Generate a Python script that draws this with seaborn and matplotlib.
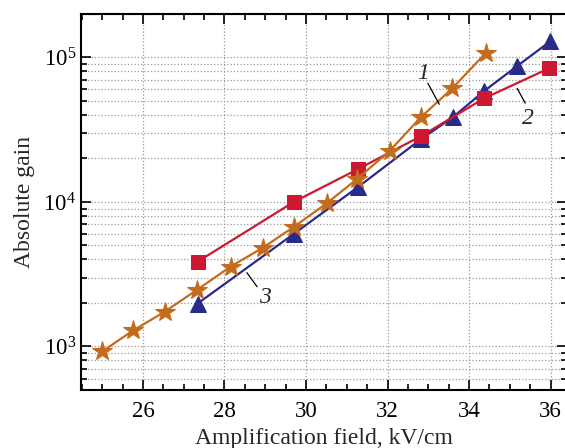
import numpy as np
import pandas as pd
import seaborn as sns
import matplotlib.pyplot as plt
from matplotlib.ticker import LogLocator, MultipleLocator, NullFormatter

# === Data ===

# curve 1 (stars)
field_1 = [25.0, 25.76, 26.54, 27.33, 28.15, 28.94, 29.7, 30.52, 31.25, 32.05, 32.82, 33.59, 34.42]
gain_1 = [925, 1290, 1745, 2470, 3570, 4820, 6720, 9840, 14400, 22500, 38600, 61100, 108000]

# curve 2 (squares)
field_2 = [27.34, 29.7, 31.28, 32.82, 34.37, 35.96]
gain_2 = [3860, 10000, 16900, 28500, 52100, 83900]

# curve 3 (triangles)
field_3 = [27.34, 29.7, 31.28, 32.82, 33.6, 34.37, 35.17, 35.99]
gain_3 = [1980, 6010, 12700, 27200, 38500, 58500, 86700, 129000]

curve_labels = ["1", "2", "3"]
label_text_xy = [(32.87, 77600), (35.45, 37900), (28.99, 2180)]
label_line_xy = [((32.99, 66200), (33.27, 47400)),
                 ((35.18, 61100), (35.38, 48200)),
                 ((28.55, 3240), (28.80, 2590))]

# === Style ===

sns.set_style("ticks")
plt.rcParams['font.family'] = ['Liberation Serif', 'DejaVu Serif']
plt.rcParams['mathtext.fontset'] = 'stix'

fig = plt.figure(figsize=(5.65, 4.48), dpi=100)
# right spine sits just past the image edge, as in the reference
ax = fig.add_axes([0.1434, 0.1295, 0.8606, 0.8395])

orange = "#c46c1e"
red = "#cc1830"
navy = "#2a2a88"

# blue first, then red, orange on top
sns.lineplot(x=field_3, y=gain_3, ax=ax, color=navy, marker="^", markersize=12,
             markeredgecolor=navy, linewidth=1.6, zorder=3)
sns.lineplot(x=field_2, y=gain_2, ax=ax, color=red, marker="s", markersize=9.5,
             markeredgecolor=red, linewidth=1.6, zorder=4)
sns.lineplot(x=field_1, y=gain_1, ax=ax, color=orange, marker="*", markersize=15,
             markeredgecolor=orange, linewidth=1.6, zorder=5)

ax.set_yscale("log")
ax.set_xlim(24.48, 36.41)
ax.set_ylim(500, 2e5)

ax.xaxis.set_major_locator(MultipleLocator(2))
ax.xaxis.set_minor_locator(MultipleLocator(0.5))
ax.yaxis.set_major_locator(LogLocator(base=10))
ax.yaxis.set_minor_locator(LogLocator(base=10, subs=np.arange(2, 10)))
ax.yaxis.set_minor_formatter(NullFormatter())

ax.grid(True, which="major", axis="x", color="#9a9a9a", linestyle=":", linewidth=0.9)
ax.grid(True, which="both", axis="y", color="#9a9a9a", linestyle=":", linewidth=0.9)

ax.tick_params(which="both", direction="in", top=True, right=True, width=1.2,
               colors="black", labelsize=16.5)
ax.tick_params(which="major", length=7.5)
ax.tick_params(which="minor", length=4.5)
ax.tick_params(axis="x", pad=8)
for sp in ax.spines.values():
    sp.set_linewidth(1.5)
    sp.set_color("black")

ax.set_xlabel("Amplification field, kV/cm", fontsize=17, labelpad=4)
ax.set_ylabel("Absolute gain", fontsize=17, labelpad=6)

# curve number labels with leader lines
for lab, (tx, ty), (p0, p1) in zip(curve_labels, label_text_xy, label_line_xy):
    ax.plot([p0[0], p1[0]], [p0[1], p1[1]], color="black", linewidth=0.9, zorder=6)
    ax.text(tx, ty, lab, fontsize=17, style="italic", ha="center", va="center", zorder=6)

fig.savefig("out.png", dpi=100)
